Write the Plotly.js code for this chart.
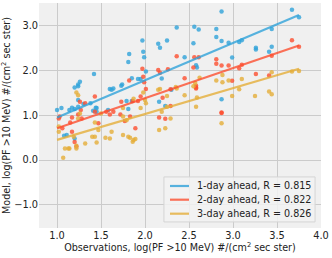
<!DOCTYPE html>
<html>
<head>
<meta charset="utf-8">
<script src="https://cdn.plot.ly/plotly-3.0.1.min.js"></script>
<style>html,body{margin:0;padding:0;background:#fff;}#chart{width:332px;height:258px;}</style>
</head>
<body>
<div id="chart"></div>
<script>
// Observed vs. modelled values, 1-day ahead
const obs1 = [1.82,1.81,1.42,1.26,1.24,1.85,1.74,2.87,2.36,2.56,2.61,2.81,2.81,1.97,2.87,2.15,2.55,2.17,1.98,2.25,1.99,2.45,2.59,2.58,2.01,1.92,1.95,2.19,3.67,3.75,3.44,2.95,3.07,3.10,3.26,3.26,3.44,3.41,2.99,2.87,1.00,1.05,1.14,1.17,1.20,1.24,1.30,1.20,1.24,1.60,1.62,1.64,1.73,1.41,1.44,1.45,1.58,1.79,1.81,1.85,1.11,1.08,1.20,2.16,2.23,2.30,1.24,1.38,1.45];
const mod1 = [2.37,2.19,1.92,1.75,1.69,1.83,1.69,3.32,2.96,2.98,2.92,2.93,2.75,2.67,2.66,2.60,2.61,2.51,2.42,2.67,2.30,2.30,2.07,2.12,1.98,1.81,1.81,1.82,3.36,3.19,2.93,2.62,2.64,2.68,2.51,2.47,2.53,2.42,2.29,1.36,1.12,1.16,1.12,1.17,1.14,1.19,1.25,1.62,1.65,1.59,1.57,1.60,1.66,1.10,1.17,1.08,1.12,1.32,1.14,1.32,0.56,0.54,0.48,1.30,1.21,1.57,1.34,1.27,1.16];
// 2-day ahead
const obs2 = [1.82,2.36,2.56,2.61,2.81,2.81,2.87,1.97,2.55,2.15,2.17,2.26,1.98,2.45,1.99,3.67,3.75,3.44,2.95,3.07,3.10,3.26,3.41,2.99,2.87,2.58,2.58,2.29,1.03,1.02,1.06,1.15,1.17,1.24,1.27,1.28,1.17,1.20,1.22,1.32,1.43,1.47,1.56,1.60,1.64,1.72,1.77,1.83,1.86,1.73,2.01,1.95,1.92,2.20,2.16,2.23,2.29,2.58,2.87,1.89,1.43,1.26];
const mod2 = [1.78,2.32,2.30,2.30,2.25,2.15,2.11,2.04,2.07,2.01,1.95,2.03,1.86,1.83,1.74,2.68,2.53,2.33,2.11,2.05,2.13,1.92,1.89,1.77,1.06,1.66,1.60,1.58,0.97,0.93,0.71,0.84,0.95,1.02,1.12,0.93,0.63,0.40,0.30,1.27,1.08,0.82,1.08,1.02,1.08,1.02,0.87,0.97,1.32,1.30,1.59,1.42,1.32,1.39,0.95,0.92,1.21,1.62,1.05,0.71,1.42,1.30];
// 3-day ahead
const obs3 = [2.62,2.81,2.88,2.57,3.67,3.75,3.44,2.95,3.10,2.58,2.87,3.25,3.41,3.44,2.99,3.07,2.88,2.35,2.45,2.59,2.25,2.25,2.29,1.02,1.02,1.07,1.13,1.09,1.19,1.24,1.26,1.22,1.32,1.43,1.47,1.55,1.60,1.62,1.75,1.83,1.86,1.75,1.79,1.22,1.24,1.50,1.43,1.98,2.00,1.95,2.15,2.17,2.19,2.16,2.23,1.89,2.55,2.36,2.01,1.87,1.75,1.40,1.45,1.81,1.87,1.22,1.14];
const mod3 = [1.84,1.78,1.90,1.72,1.98,1.99,1.96,1.78,1.81,1.19,0.82,1.43,1.53,1.47,1.43,1.58,1.74,1.63,1.45,1.40,1.43,1.19,0.93,0.75,0.63,0.05,0.26,0.26,0.52,0.93,1.04,0.32,0.37,0.52,0.67,0.50,0.48,0.63,0.56,0.50,0.41,0.97,0.89,1.51,1.45,1.04,0.84,1.51,1.34,1.16,1.57,1.59,1.08,0.67,0.71,0.47,1.65,1.60,1.27,1.37,1.16,0.52,0.39,0.52,0.45,0.26,0.26];
// Fit lines (end points of the regression lines)
const fitX = [1.0, 3.75];
const fit1 = [0.95, 3.24];
const fit2 = [0.71, 2.56];
const fit3 = [0.45, 2.04];
const names = ["1-day ahead, R = 0.815", "2-day ahead, R = 0.822", "3-day ahead, R = 0.826"];
const xTicks = [1.0,1.5,2.0,2.5,3.0,3.5,4.0];
const yTicks = [-1.0,0.0,1.0,2.0,3.0];

const colors = ["#30a2da", "#fc4f30", "#e5ae38"];
const obsSets = [obs1, obs2, obs3];
const modSets = [mod1, mod2, mod3];
const fits = [fit1, fit2, fit3];

const traces = [];
for (let i = 0; i < 3; i++) {
  traces.push({
    x: obsSets[i], y: modSets[i], mode: "markers", type: "scatter",
    marker: {color: colors[i], size: 4.5, opacity: 0.8},
    showlegend: false, hoverinfo: "skip"
  });
}
for (let i = 0; i < 3; i++) {
  traces.push({
    x: fitX, y: fits[i], mode: "lines", type: "scatter", name: names[i],
    line: {color: colors[i], width: 2.2}, opacity: 0.8, showlegend: false
  });
}

// Compact legend (matplotlib-style) built from shapes and annotations in paper coords
const legX0 = 0.443, legX1 = 0.979, legY0 = 0.027, legY1 = 0.227;
const rowY = [0.1867, 0.1258, 0.0636];
const shapes = [{
  type: "rect", xref: "paper", yref: "paper", x0: legX0, x1: legX1, y0: legY0, y1: legY1,
  fillcolor: "rgba(242,242,242,0.85)", line: {color: "#d4d4d4", width: 1}, layer: "above"
}];
const annotations = [];
for (let i = 0; i < 3; i++) {
  shapes.push({
    type: "line", xref: "paper", yref: "paper", x0: 0.4645, x1: 0.532, y0: rowY[i], y1: rowY[i],
    line: {color: colors[i], width: 2.2}, opacity: 0.8, layer: "above"
  });
  annotations.push({
    xref: "paper", yref: "paper", x: 0.552, y: rowY[i], xanchor: "left", yanchor: "middle",
    text: names[i], showarrow: false,
    font: {family: "DejaVu Sans", size: 9.6, color: "#222"}
  });
}

const tickFont = {family: "DejaVu Sans", size: 9.8, color: "#222"};
const titleFont = {family: "DejaVu Sans", size: 9.6, color: "#222"};
const layout = {
  width: 332, height: 258,
  margin: {l: 39, r: 11, t: 3, b: 30},
  paper_bgcolor: "#ffffff",
  plot_bgcolor: "#f0f0f0",
  font: {family: "DejaVu Sans", size: 9.6, color: "#222"},
  showlegend: false,
  xaxis: {
    range: [0.795, 4.0], tickvals: xTicks, ticktext: xTicks.map(v => v.toFixed(1)),
    showgrid: true, gridcolor: "#cbcbcb", gridwidth: 1, zeroline: false,
    showline: false, ticks: "", tickfont: tickFont,
    title: {text: "Observations, log(PF >10 MeV) #/(cm<sup>2</sup> sec ster)", font: titleFont, standoff: 3}
  },
  yaxis: {
    range: [-1.52, 3.51], tickvals: yTicks, ticktext: ["\u22121.0","0.0","1.0","2.0","3.0"],
    showgrid: true, gridcolor: "#cbcbcb", gridwidth: 1, zeroline: false,
    showline: false, ticks: "", tickfont: tickFont,
    title: {text: "Model, log(PF >10 MeV) #/(cm<sup>2</sup> sec ster)", font: titleFont, standoff: 4}
  },
  shapes: shapes,
  annotations: annotations
};

Plotly.newPlot("chart", traces, layout, {displayModeBar: false, staticPlot: true});
</script>
</body>
</html>
